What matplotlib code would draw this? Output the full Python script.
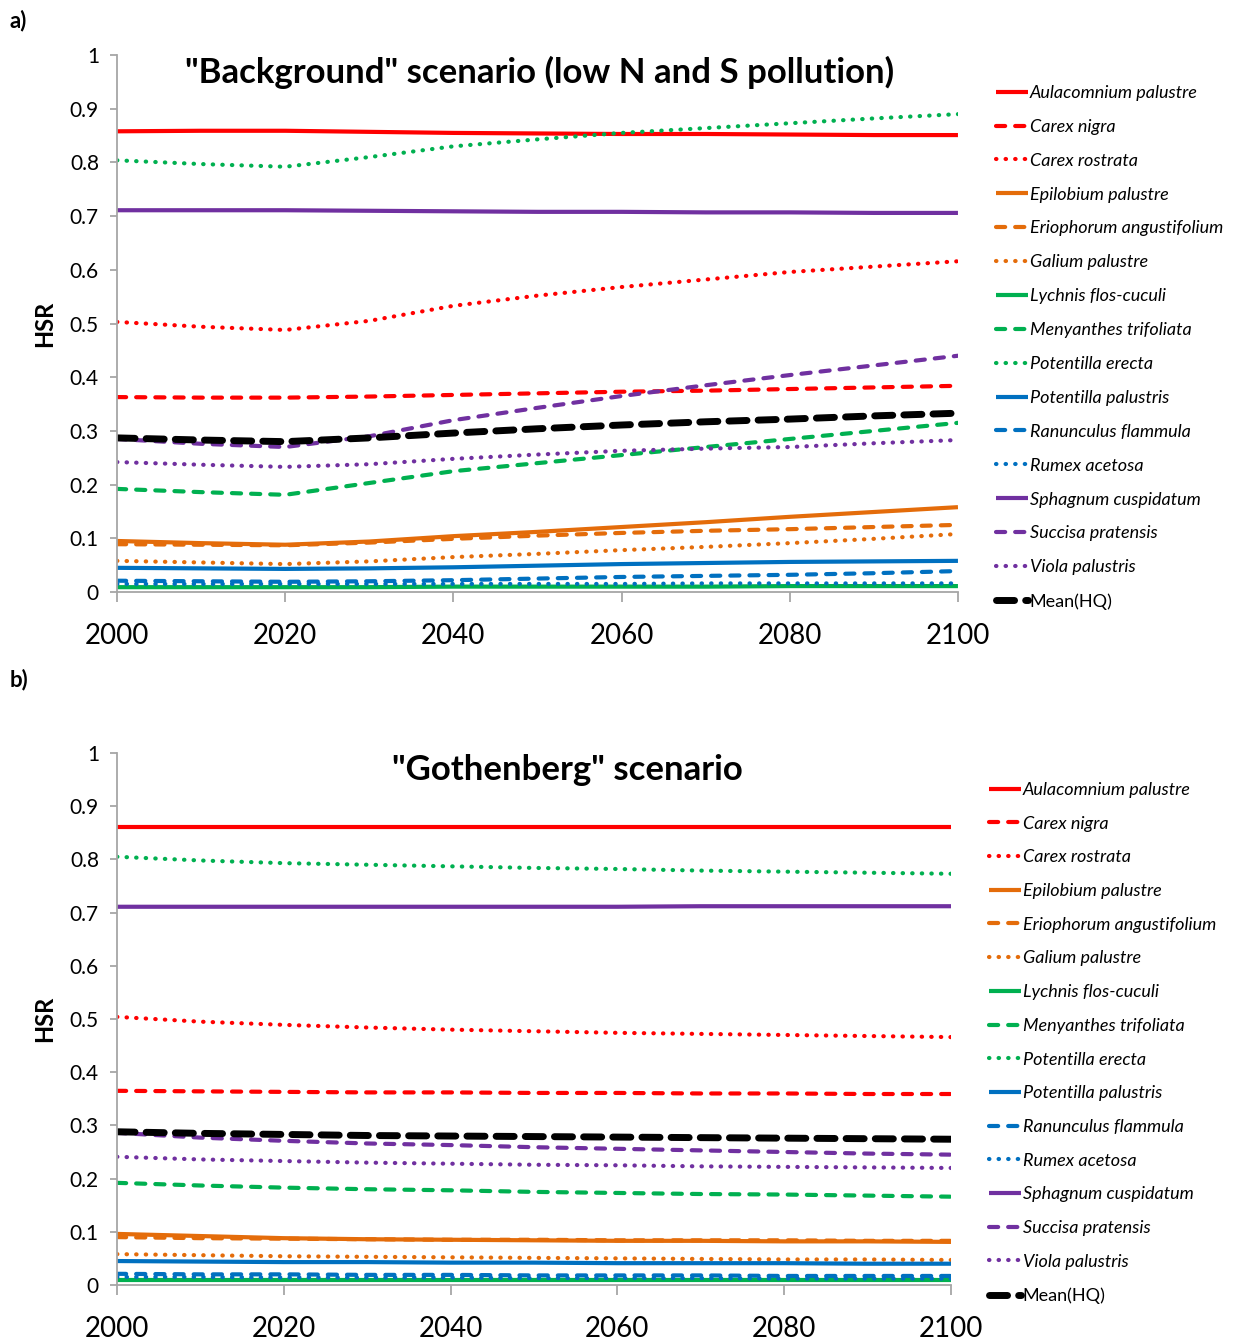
import numpy as np
import matplotlib.pyplot as plt

# years sampled along the x axis
years = [2000, 2010, 2020, 2030, 2040, 2050, 2060, 2070, 2080, 2090, 2100]

species = ['Aulacomnium palustre', 'Carex nigra', 'Carex rostrata',
           'Epilobium palustre', 'Eriophorum angustifolium', 'Galium palustre',
           'Lychnis flos-cuculi', 'Menyanthes trifoliata', 'Potentilla erecta',
           'Potentilla palustris', 'Ranunculus flammula', 'Rumex acetosa',
           'Sphagnum cuspidatum', 'Succisa pratensis', 'Viola palustris']

# "Background" scenario (panel a)
bg_aul = [0.858, 0.859, 0.859, 0.857, 0.855, 0.854, 0.853, 0.853, 0.852, 0.851, 0.851]
bg_cni = [0.363, 0.362, 0.362, 0.364, 0.367, 0.370, 0.373, 0.375, 0.378, 0.381, 0.384]
bg_cro = [0.503, 0.494, 0.488, 0.505, 0.533, 0.552, 0.568, 0.582, 0.596, 0.606, 0.616]
bg_epi = [0.095, 0.091, 0.088, 0.094, 0.104, 0.112, 0.121, 0.130, 0.140, 0.149, 0.158]
bg_eri = [0.089, 0.088, 0.087, 0.092, 0.099, 0.105, 0.110, 0.114, 0.117, 0.121, 0.125]
bg_gal = [0.058, 0.055, 0.052, 0.057, 0.065, 0.071, 0.078, 0.084, 0.091, 0.099, 0.108]
bg_lyc = [0.009, 0.009, 0.009, 0.009, 0.010, 0.010, 0.010, 0.010, 0.011, 0.011, 0.011]
bg_men = [0.192, 0.186, 0.181, 0.203, 0.225, 0.240, 0.255, 0.270, 0.285, 0.300, 0.315]
bg_per = [0.804, 0.797, 0.792, 0.810, 0.830, 0.843, 0.855, 0.864, 0.873, 0.882, 0.890]
bg_ppa = [0.045, 0.044, 0.043, 0.044, 0.046, 0.049, 0.052, 0.054, 0.056, 0.057, 0.058]
bg_ran = [0.021, 0.020, 0.019, 0.020, 0.022, 0.025, 0.028, 0.030, 0.032, 0.035, 0.039]
bg_rum = [0.015, 0.015, 0.015, 0.015, 0.015, 0.015, 0.015, 0.016, 0.016, 0.016, 0.016]
bg_sph = [0.711, 0.711, 0.711, 0.710, 0.709, 0.708, 0.708, 0.707, 0.707, 0.706, 0.706]
bg_suc = [0.285, 0.276, 0.270, 0.290, 0.320, 0.343, 0.365, 0.385, 0.404, 0.422, 0.440]
bg_vio = [0.242, 0.237, 0.233, 0.238, 0.248, 0.256, 0.263, 0.267, 0.270, 0.277, 0.283]
bg_mean = [0.287, 0.283, 0.280, 0.287, 0.296, 0.304, 0.311, 0.317, 0.322, 0.328, 0.333]

# "Gothenberg" scenario (panel b)
gb_aul = [0.861, 0.861, 0.861, 0.861, 0.861, 0.861, 0.861, 0.861, 0.861, 0.861, 0.861]
gb_cni = [0.365, 0.364, 0.363, 0.362, 0.362, 0.361, 0.361, 0.360, 0.360, 0.359, 0.359]
gb_cro = [0.504, 0.495, 0.489, 0.484, 0.480, 0.477, 0.474, 0.472, 0.470, 0.468, 0.466]
gb_epi = [0.096, 0.092, 0.088, 0.086, 0.085, 0.084, 0.083, 0.083, 0.082, 0.082, 0.081]
gb_eri = [0.090, 0.088, 0.087, 0.086, 0.085, 0.085, 0.084, 0.084, 0.084, 0.083, 0.083]
gb_gal = [0.058, 0.056, 0.054, 0.053, 0.052, 0.051, 0.050, 0.049, 0.048, 0.048, 0.047]
gb_lyc = [0.009, 0.009, 0.009, 0.009, 0.009, 0.009, 0.009, 0.009, 0.009, 0.009, 0.009]
gb_men = [0.192, 0.187, 0.183, 0.180, 0.178, 0.175, 0.173, 0.171, 0.170, 0.168, 0.166]
gb_per = [0.805, 0.798, 0.793, 0.790, 0.787, 0.784, 0.782, 0.779, 0.777, 0.775, 0.773]
gb_ppa = [0.045, 0.044, 0.043, 0.043, 0.042, 0.042, 0.041, 0.041, 0.041, 0.040, 0.040]
gb_ran = [0.021, 0.020, 0.020, 0.019, 0.019, 0.018, 0.018, 0.018, 0.017, 0.017, 0.017]
gb_rum = [0.015, 0.015, 0.014, 0.014, 0.014, 0.013, 0.013, 0.013, 0.012, 0.012, 0.012]
gb_sph = [0.711, 0.711, 0.711, 0.711, 0.711, 0.711, 0.711, 0.712, 0.712, 0.712, 0.712]
gb_suc = [0.286, 0.277, 0.271, 0.266, 0.263, 0.259, 0.256, 0.253, 0.250, 0.247, 0.245]
gb_vio = [0.241, 0.236, 0.233, 0.230, 0.228, 0.226, 0.225, 0.223, 0.222, 0.221, 0.220]
gb_mean = [0.288, 0.285, 0.283, 0.281, 0.280, 0.279, 0.278, 0.277, 0.276, 0.275, 0.274]

background = [bg_aul, bg_cni, bg_cro, bg_epi, bg_eri, bg_gal, bg_lyc, bg_men,
              bg_per, bg_ppa, bg_ran, bg_rum, bg_sph, bg_suc, bg_vio]
gothenberg = [gb_aul, gb_cni, gb_cro, gb_epi, gb_eri, gb_gal, gb_lyc, gb_men,
              gb_per, gb_ppa, gb_ran, gb_rum, gb_sph, gb_suc, gb_vio]

colours = ['#FF0000', '#E46C0A', '#00B050', '#0070C0', '#7030A0']
solid = '-'
dashed = (0, (2.2, 2.4))
dotted = (0, (0.1, 2.2))
styles = [solid, dashed, dotted]

plt.rcParams['font.family'] = ['Lato', 'DejaVu Sans']

fig = plt.figure(figsize=(12.34, 13.43), dpi=100)


def panel(rect, data, mean, title, title_x, legend_x, legend_top, spacing):
    ax = fig.add_axes(rect)
    for i, (name, vals) in enumerate(zip(species, data)):
        ls = styles[i % 3]
        ax.plot(years, vals, color=colours[i // 3], linestyle=ls, lw=3,
                dash_capstyle='round', solid_capstyle='butt', label=name)
    ax.plot(years, mean, color='black', linestyle=(0, (2.6, 1.6)), lw=5,
            dash_capstyle='round', label='Mean(HQ)')
    ax.set_xlim(2000, 2100)
    ax.set_ylim(0, 1)
    ax.set_xticks(range(2000, 2101, 20))
    ax.set_yticks(np.arange(0, 1.01, 0.1))
    ax.set_yticklabels(['0'] + ['%.1f' % v for v in np.arange(0.1, 0.95, 0.1)] + ['1'])
    for s in ['top', 'right']:
        ax.spines[s].set_visible(False)
    for s in ['left', 'bottom']:
        ax.spines[s].set_color('#A6A6A6')
        ax.spines[s].set_linewidth(1.3)
    ax.tick_params(axis='x', labelsize=20, length=7, width=1.3, color='#A6A6A6', pad=15)
    ax.tick_params(axis='y', labelsize=15, length=5, width=1.3, color='#A6A6A6', pad=8)
    ax.set_ylabel('HSR', fontsize=17, fontweight='bold', labelpad=10)
    ax.text(title_x, 0.968, title, transform=ax.transAxes, ha='center', va='center',
            fontsize=25, fontweight='bold')
    ax.legend(loc='upper left', bbox_to_anchor=(legend_x, legend_top),
              bbox_transform=fig.transFigure, frameon=False,
              prop={'style': 'italic', 'size': 13}, handlelength=1.75,
              handletextpad=0.12, labelspacing=spacing, borderaxespad=0,
              borderpad=0)
    return ax


ax1 = panel([0.0948, 0.5592, 0.6815, 0.3998], background, bg_mean,
            '"Background" scenario (low N and S pollution)', 0.502,
            996 / 1234, 1 - 85 / 1343, 0.99)
ax2 = panel([0.0948, 0.0432, 0.6759, 0.3961], gothenberg, gb_mean,
            '"Gothenberg" scenario', 0.54,
            989 / 1234, 1 - 782 / 1343, 0.98)

# Mean(HQ) label is upright in the original
for ax in (ax1, ax2):
    ax.get_legend().get_texts()[-1].set_style('normal')

fig.text(0.008, 0.985, 'a)', fontsize=16, fontweight='bold', va='center')
fig.text(0.008, 0.494, 'b)', fontsize=16, fontweight='bold', va='center')

fig.savefig('out.png', dpi=100)
